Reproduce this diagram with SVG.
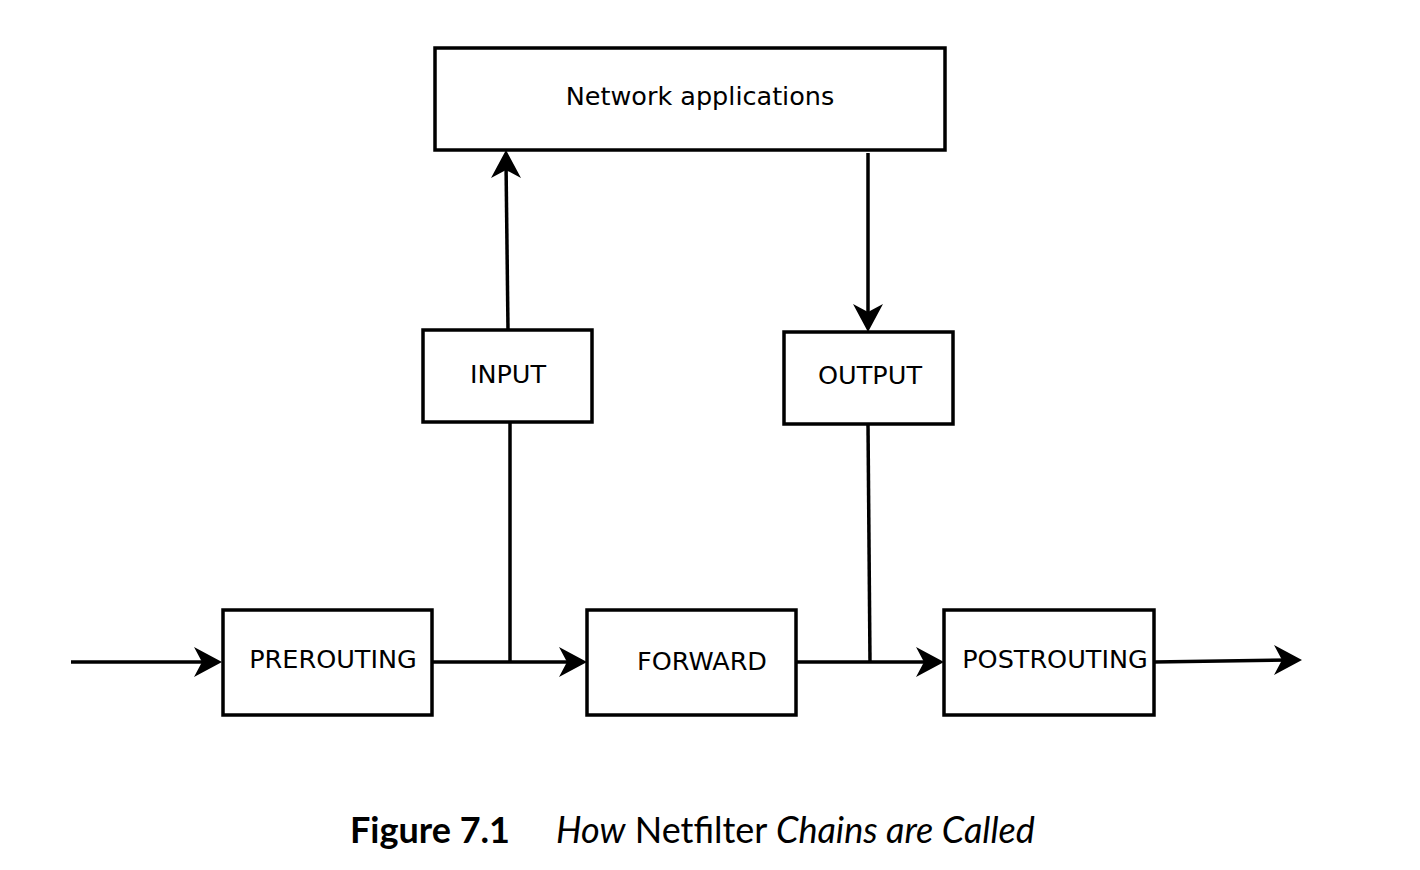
<svg xmlns="http://www.w3.org/2000/svg" xmlns:xlink="http://www.w3.org/1999/xlink" width="1420" height="870" viewBox="0 0 1420 870">
<style>
.box{fill:#fff;stroke:#000;stroke-width:3.5}
.lbl{font-family:"DejaVu Sans",sans-serif;font-size:25.5px;fill:#000;text-anchor:middle}
.ln{fill:none;stroke:#000;stroke-width:3.5}
.head{fill:#000;stroke:none}
.cap{font-family:"Lato","Open Sans",sans-serif;font-size:36px;fill:#000}
</style>
<defs>
<path id="ah" d="M0,0 L-28,-15 L-20,0 L-28,15 Z"/>
</defs>
<rect width="1420" height="870" fill="#fff"/>
<g id="connectors">
<line class="ln" x1="71" y1="662" x2="210" y2="662"/>
<use class="head" xlink:href="#ah" href="#ah" transform="translate(222,662)"/>
<line class="ln" x1="432" y1="662" x2="575" y2="662"/>
<use class="head" xlink:href="#ah" href="#ah" transform="translate(587,662)"/>
<line class="ln" x1="510" y1="422" x2="510" y2="662"/>
<line class="ln" x1="508" y1="330" x2="506" y2="162"/>
<use class="head" xlink:href="#ah" href="#ah" transform="translate(506,150) rotate(-90)"/>
<line class="ln" x1="868" y1="153" x2="868" y2="320"/>
<use class="head" xlink:href="#ah" href="#ah" transform="translate(868,332) rotate(90)"/>
<line class="ln" x1="868" y1="424" x2="870" y2="662"/>
<line class="ln" x1="796" y1="662" x2="932" y2="662"/>
<use class="head" xlink:href="#ah" href="#ah" transform="translate(944,662)"/>
<line class="ln" x1="1154" y1="662" x2="1290" y2="660"/>
<use class="head" xlink:href="#ah" href="#ah" transform="translate(1302,660)"/>
</g>
<g id="netapps">
<rect class="box" x="435" y="48" width="510" height="102"/>
<text class="lbl" x="700" y="105">Network applications</text>
</g>
<g id="input">
<rect class="box" x="423" y="330" width="169" height="92"/>
<text class="lbl" x="508" y="383">INPUT</text>
</g>
<g id="output">
<rect class="box" x="784" y="332" width="169" height="92"/>
<text class="lbl" x="870" y="384">OUTPUT</text>
</g>
<g id="prerouting">
<rect class="box" x="223" y="610" width="209" height="105"/>
<text class="lbl" x="333" y="668">PREROUTING</text>
</g>
<g id="forward">
<rect class="box" x="587" y="610" width="209" height="105"/>
<text class="lbl" x="702" y="670">FORWARD</text>
</g>
<g id="postrouting">
<rect class="box" x="944" y="610" width="210" height="105"/>
<text class="lbl" x="1055" y="668">POSTROUTING</text>
</g>
<g id="caption">
<text class="cap" x="350" y="843" font-weight="bold">Figure 7.1</text>
<text class="cap" x="556" y="843" font-size="35"><tspan font-style="italic">How</tspan> Netfilter <tspan font-style="italic">Chains are Called</tspan></text>
</g>
</svg>
